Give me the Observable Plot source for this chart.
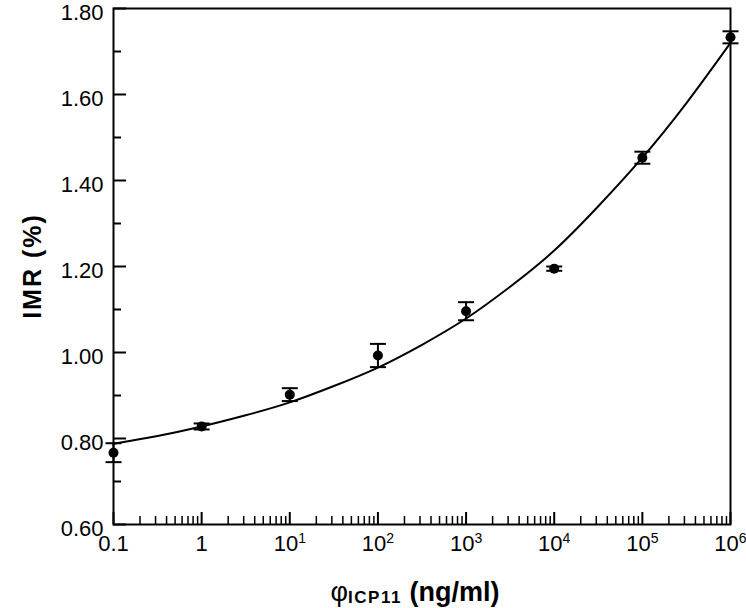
<!DOCTYPE html>
<html><head><meta charset="utf-8">
<script src="https://cdn.jsdelivr.net/npm/d3@7"></script>
<script src="https://cdn.jsdelivr.net/npm/@observablehq/plot@0.6"></script>
<style>body{margin:0;background:#fff} #chart svg{display:block}</style>
</head><body><div id="chart"></div>
<script>
// Measured points (concentration in ng/ml, IMR in %)
const concentration = [0.1, 1, 10, 100, 1000, 10000, 100000, 1000000];
const imrMean = [0.767, 0.828, 0.902, 0.993, 1.096, 1.195, 1.453, 1.733];
const imrError = [0.022, 0.007, 0.015, 0.027, 0.021, 0.005, 0.014, 0.014];

// Fitted curve (log10 of concentration, IMR)
const fitLogConcentration = [-1, -0.5, 0, 0.5, 1, 1.5, 2, 2.5, 3, 3.5, 4, 4.5, 5, 5.5, 6];
const fitImr = [0.788, 0.806, 0.828, 0.854, 0.884, 0.922, 0.965, 1.018, 1.079, 1.153, 1.237, 1.34, 1.453, 1.58, 1.72];

// Ticks
const xTickValues = [0.1, 1, 10, 100, 1000, 10000, 100000, 1000000];
const xTickLabels = ["0.1", "1", "10^1", "10^2", "10^3", "10^4", "10^5", "10^6"];
const xMinorMultipliers = [2, 3, 4, 5, 6, 7, 8, 9];
const yTickValues = [0.6, 0.8, 1.0, 1.2, 1.4, 1.6, 1.8];
const yMinorTickValues = [0.7, 0.9, 1.1, 1.3, 1.5, 1.7];

const W = 746, H = 608, mL = 113, mR = 16, mT = 8, mB = 84;
const innerW = W - mL - mR, innerH = H - mT - mB;

const points = concentration.map((c, i) => ({c, m: imrMean[i], lo: imrMean[i] - imrError[i], hi: imrMean[i] + imrError[i]}));
const fit = fitLogConcentration.map((l, i) => ({c: Math.pow(10, l), v: fitImr[i]}));
const xMinor = xTickValues.slice(0, -1).flatMap(d => xMinorMultipliers.map(k => d * k));
const cap = {draw(ctx) { ctx.moveTo(-8, 0); ctx.lineTo(8, 0); }};

const chart = Plot.plot({
  width: W, height: H,
  marginLeft: mL, marginRight: mR, marginTop: mT, marginBottom: mB,
  style: {fontFamily: "'Liberation Sans', Arial, Helvetica, sans-serif", fontSize: "22px", color: "black", background: "white", overflow: "visible"},
  x: {type: "log", domain: [0.1, 1000000]},
  y: {domain: [0.6, 1.8]},
  marks: [
    Plot.axisX({ticks: xTickValues, tickFormat: d => xTickLabels[xTickValues.indexOf(d)], tickSize: 0, tickPadding: 11, label: null, fontSize: 22}),
    Plot.axisY({ticks: yTickValues, tickFormat: d3.format(".2f"), tickSize: 0, tickPadding: 10, dy: 4, label: null, fontSize: 22}),
    Plot.tickY(yTickValues, {y: d => d, insetRight: innerW - 13, stroke: "black", strokeWidth: 2}),
    Plot.tickY(yMinorTickValues, {y: d => d, insetRight: innerW - 8, stroke: "black", strokeWidth: 2}),
    Plot.tickX(xTickValues, {x: d => d, insetTop: innerH - 12, stroke: "black", strokeWidth: 2}),
    Plot.tickX(xMinor, {x: d => d, insetTop: innerH - 8, stroke: "black", strokeWidth: 1.5}),
    Plot.frame({stroke: "black", strokeWidth: 2}),
    Plot.line(fit, {x: "c", y: "v", curve: "natural", stroke: "black", strokeWidth: 2}),
    Plot.ruleX(points, {x: "c", y1: "lo", y2: "hi", stroke: "black", strokeWidth: 2}),
    Plot.dot(points, {x: "c", y: "lo", symbol: cap, stroke: "black", fill: "none", strokeWidth: 2}),
    Plot.dot(points, {x: "c", y: "hi", symbol: cap, stroke: "black", fill: "none", strokeWidth: 2}),
    Plot.dot(points, {x: "c", y: "m", r: 5, fill: "black", stroke: "none"})
  ]
});

const svg = d3.select(chart);
svg.selectAll('g[aria-label="x-axis tick label"] text').each(function() {
  const s = this.textContent;
  const m = s.match(/^(\d+)\^(\d+)$/);
  if (m) {
    const t = d3.select(this);
    t.text(null);
    t.append("tspan").text(m[1]);
    t.append("tspan").attr("dy", -8).attr("font-size", 14).text(m[2]);
  }
});

svg.append("text")
  .attr("transform", "translate(41,266) rotate(-90)")
  .attr("text-anchor", "middle").attr("font-weight", "bold").attr("font-size", 25)
  .attr("letter-spacing", 2).attr("fill", "black")
  .text("IMR (%)");

const xl = svg.append("text")
  .attr("x", 415).attr("y", 601)
  .attr("text-anchor", "middle").attr("font-weight", "bold").attr("font-size", 27).attr("fill", "black");
xl.append("tspan").attr("font-weight", "normal").text("φ");
xl.append("tspan").attr("font-size", 17).attr("dy", 2).attr("letter-spacing", 1.5).text("ICP11");
xl.append("tspan").attr("dy", -2).text(" (ng/ml)");

document.getElementById("chart").appendChild(chart);
</script>
</body></html>
